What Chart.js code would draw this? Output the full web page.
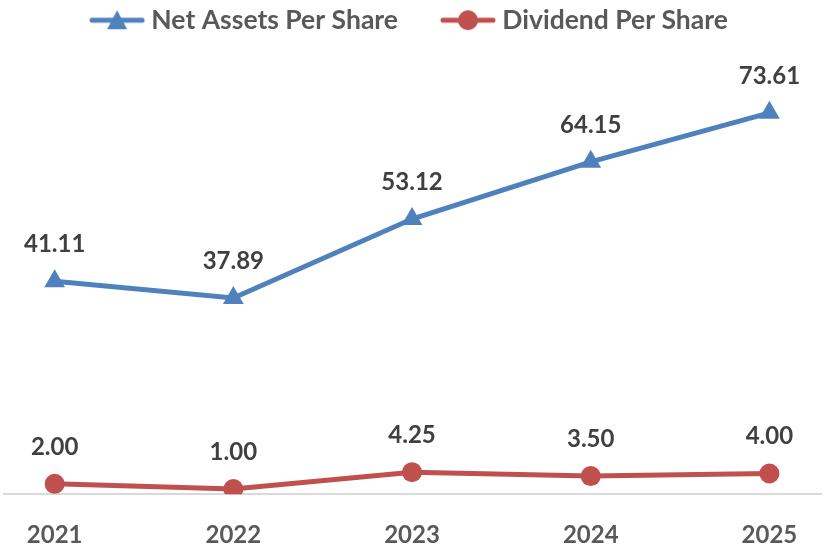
<!DOCTYPE html>
<html lang="en">
<head>
    <meta charset="UTF-8">
    <title>Net Assets and Dividend Per Share</title>
    <script src="https://cdn.jsdelivr.net/npm/chart.js"></script>
    <style>
        body {
            margin: 0;
            padding: 0;
            background-color: #fff;
        }
        .chart-box {
            width: 824px;
            height: 545px;
        }
    </style>
</head>
<body>
    <div class="chart-box">
        <canvas id="perShareChart"></canvas>
    </div>

    <script>
        const years = ['2021', '2022', '2023', '2024', '2025'];
        const netAssetsPerShare = [41.11, 37.89, 53.12, 64.15, 73.61];
        const dividendPerShare = [2.00, 1.00, 4.25, 3.50, 4.00];

        const blue = '#4F81BD';
        const red = '#C0504D';

        // small line + marker picture for the legend, like the spreadsheet legend
        function legendMarker(color, style) {
            const c = document.createElement('canvas');
            c.width = 56;
            c.height = 22;
            const g = c.getContext('2d');
            g.strokeStyle = color;
            g.fillStyle = color;
            g.lineWidth = 5;
            g.lineCap = 'round';
            g.beginPath();
            g.moveTo(3, 11);
            g.lineTo(53, 11);
            g.stroke();
            g.beginPath();
            if (style === 'triangle') {
                g.moveTo(28, 1);
                g.lineTo(38, 20);
                g.lineTo(18, 20);
                g.closePath();
            } else {
                g.arc(28, 11, 10, 0, Math.PI * 2);
            }
            g.fill();
            return c;
        }

        const valueLabels = {
            id: 'valueLabels',
            afterDatasetsDraw(chart) {
                const ctx = chart.ctx;
                ctx.save();
                ctx.font = 'bold 24px Lato';
                ctx.fillStyle = '#404040';
                ctx.textAlign = 'center';
                ctx.textBaseline = 'middle';
                chart.data.datasets.forEach((ds, i) => {
                    chart.getDatasetMeta(i).data.forEach((pt, j) => {
                        ctx.fillText(ds.data[j].toFixed(2), pt.x, pt.y - 37);
                    });
                });
                ctx.restore();
            }
        };

        const markers = [legendMarker(blue, 'triangle'), legendMarker(red, 'circle')];

        new Chart(document.getElementById('perShareChart'), {
            type: 'line',
            data: {
                labels: years,
                datasets: [{
                    label: 'Net Assets Per Share',
                    data: netAssetsPerShare,
                    borderColor: blue,
                    backgroundColor: blue,
                    borderWidth: 5,
                    pointStyle: 'triangle',
                    pointRadius: 12,
                    pointBorderWidth: 0,
                    tension: 0
                }, {
                    label: 'Dividend Per Share',
                    data: dividendPerShare,
                    borderColor: red,
                    backgroundColor: red,
                    borderWidth: 5,
                    pointStyle: 'circle',
                    pointRadius: 10,
                    pointBorderWidth: 0,
                    tension: 0
                }]
            },
            options: {
                responsive: true,
                maintainAspectRatio: false,
                animation: false,
                layout: {
                    autoPadding: false,
                    padding: { top: -42, left: 0, right: 0, bottom: -32 }
                },
                plugins: {
                    tooltip: { enabled: false },
                    legend: {
                        position: 'top',
                        labels: {
                            usePointStyle: true,
                            pointStyleWidth: 42,
                            padding: 49,
                            color: '#595959',
                            font: { family: 'Lato', size: 26.5, weight: 'bold' },
                            generateLabels(chart) {
                                return chart.data.datasets.map((ds, i) => ({
                                    text: ds.label,
                                    pointStyle: markers[i],
                                    fillStyle: ds.borderColor,
                                    strokeStyle: ds.borderColor,
                                    fontColor: '#595959',
                                    lineWidth: 0,
                                    datasetIndex: i
                                }));
                            }
                        }
                    }
                },
                scales: {
                    x: {
                        type: 'linear',
                        min: 2020.717,
                        max: 2025.289,
                        grid: { display: false, drawTicks: false },
                        border: { display: true, color: '#D9D9D9', width: 2 },
                        ticks: {
                            stepSize: 1,
                            includeBounds: false,
                            autoSkip: false,
                            maxRotation: 0,
                            padding: 27,
                            color: '#595959',
                            font: { family: 'Lato', size: 24, weight: 'bold' },
                            callback: (v) => String(v)
                        }
                    },
                    y: {
                        display: false,
                        min: 0,
                        max: 87
                    }
                }
            },
            plugins: [valueLabels]
        });
    </script>
</body>
</html>
